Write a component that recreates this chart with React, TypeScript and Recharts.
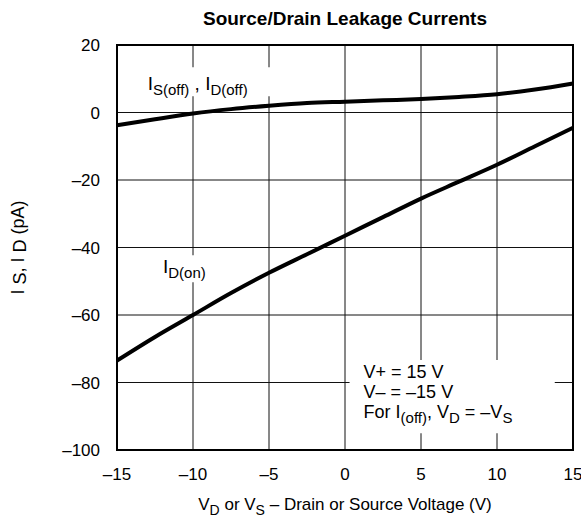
import React from 'react';
import { LineChart, Line, XAxis, YAxis, CartesianGrid, ReferenceArea, Label } from 'recharts';

const voltages = [-15, -12.5, -10, -7.5, -5, -2.5, 0, 2.5, 5, 7.5, 10, 12.5, 15];
const offLeakage = [-3.8, -2.0, -0.3, 1.0, 2.0, 2.8, 3.2, 3.6, 4.0, 4.6, 5.4, 6.8, 8.6];
const onLeakage = [-73.5, -66.5, -60, -53.5, -47.5, -42, -36.5, -31, -25.5, -20.5, -15.5, -10, -4.5];
const xTicks = [-15, -10, -5, 0, 5, 10, 15];
const yTicks = [20, 0, -20, -40, -60, -80, -100];

const data = voltages.map((v, i) => ({ v, off: offLeakage[i], on: onLeakage[i] }));

const FONT = '"Liberation Sans", Arial, Helvetica, sans-serif';
const fmt = (n: number) => (n < 0 ? '\u2013' + Math.abs(n) : String(n));

const TitleLabel = (props: any) => {
  const { x, y, width } = props.viewBox;
  return (
    <text x={x + width / 2} y={y - 20} textAnchor="middle" fontFamily={FONT} fontSize={19} fontWeight="bold" fill="#000">
      Source/Drain Leakage Currents
    </text>
  );
};

const XTitle = (props: any) => {
  const { x, y, width } = props.viewBox;
  return (
    <text x={x + width / 2} y={y + 60} textAnchor="middle" fontFamily={FONT} fontSize={17} fill="#000">
      V<tspan dy={5} fontSize={14}>D</tspan>
      <tspan dy={-5}> or V</tspan>
      <tspan dy={5} fontSize={14}>S</tspan>
      <tspan dy={-5}> {'\u2013'} Drain or Source Voltage (V)</tspan>
    </text>
  );
};

const YTitle = (props: any) => {
  const { x, y, height } = props.viewBox;
  const cx = x + 24;
  const cy = y + height / 2;
  return (
    <text x={cx} y={cy} transform={`rotate(-90 ${cx} ${cy})`} textAnchor="middle" fontFamily={FONT} fontSize={18} fill="#000">
      I <tspan dy={2}>S</tspan>
      <tspan dy={-2}>, I </tspan>
      <tspan dy={2}>D</tspan>
      <tspan dy={-2}> (pA)</tspan>
    </text>
  );
};

const OffLabel = (props: any) => {
  const { x, y } = props.viewBox;
  return (
    <text x={x + 20} y={y + 23} fontFamily={FONT} fontSize={19} fill="#000">
      I<tspan dy={5} fontSize={15}>S(off)</tspan>
      <tspan dy={-5}> , I</tspan>
      <tspan dy={5} fontSize={15}>D(off)</tspan>
    </text>
  );
};

const OnLabel = (props: any) => {
  const { x, y } = props.viewBox;
  return (
    <text x={x + 8} y={y + 18} fontFamily={FONT} fontSize={19} fill="#000">
      I<tspan dy={5} fontSize={15}>D(on)</tspan>
    </text>
  );
};

const NoteLabel = (props: any) => {
  const { x, y } = props.viewBox;
  const tx = x + 14;
  return (
    <text fontFamily={FONT} fontSize={18} fill="#000">
      <tspan x={tx} y={y + 18}>V+ = 15 V</tspan>
      <tspan x={tx} y={y + 38}>V{'\u2013'} = {'\u2013'}15 V</tspan>
      <tspan x={tx} y={y + 58}>For I</tspan>
      <tspan dy={5} fontSize={15}>(off)</tspan>
      <tspan dy={-5}>, V</tspan>
      <tspan dy={5} fontSize={15}>D</tspan>
      <tspan dy={-5}> = {'\u2013'}V</tspan>
      <tspan dy={5} fontSize={15}>S</tspan>
    </text>
  );
};

export default function App() {
  return (
    <div style={{ position: 'absolute', left: 0, top: 0, width: 581, height: 525, background: '#fff' }}>
      <LineChart width={581} height={525} data={data} margin={{ top: 45, right: 8, bottom: 0, left: 0 }}>
        <CartesianGrid stroke="#111" strokeWidth={1} />
        <XAxis
          dataKey="v"
          type="number"
          domain={[-15, 15]}
          ticks={xTicks}
          tickFormatter={fmt}
          height={75}
          axisLine={false}
          tickLine={false}
          tickSize={0}
          tickMargin={18}
          interval={0}
          tick={{ fontSize: 17, fill: '#000', fontFamily: FONT }}
        >
          <Label content={XTitle} />
        </XAxis>
        <YAxis
          type="number"
          domain={[-100, 20]}
          ticks={yTicks}
          tickFormatter={fmt}
          width={117}
          axisLine={false}
          tickLine={false}
          tickSize={0}
          tickMargin={17}
          interval={0}
          tick={{ fontSize: 17, fill: '#000', fontFamily: FONT }}
        >
          <Label content={YTitle} />
        </YAxis>
        <ReferenceArea x1={-14.3} x2={-4.0} y1={4.8} y2={13.4} fill="#fff" fillOpacity={1} stroke="none" label={OffLabel} />
        <ReferenceArea x1={-12.5} x2={-8.8} y1={-50.3} y2={-42.3} fill="#fff" fillOpacity={1} stroke="none" label={OnLabel} />
        <ReferenceArea x1={0.3} x2={13.8} y1={-95} y2={-73.3} fill="#fff" fillOpacity={1} stroke="none" label={NoteLabel} />
        <ReferenceArea x1={-15} x2={15} y1={-100} y2={20} fill="none" fillOpacity={0} stroke="#000" strokeWidth={2} label={TitleLabel} />
        <Line type="monotone" dataKey="off" stroke="#000" strokeWidth={4} dot={false} isAnimationActive={false} />
        <Line type="monotone" dataKey="on" stroke="#000" strokeWidth={4} dot={false} isAnimationActive={false} />
      </LineChart>
    </div>
  );
}
